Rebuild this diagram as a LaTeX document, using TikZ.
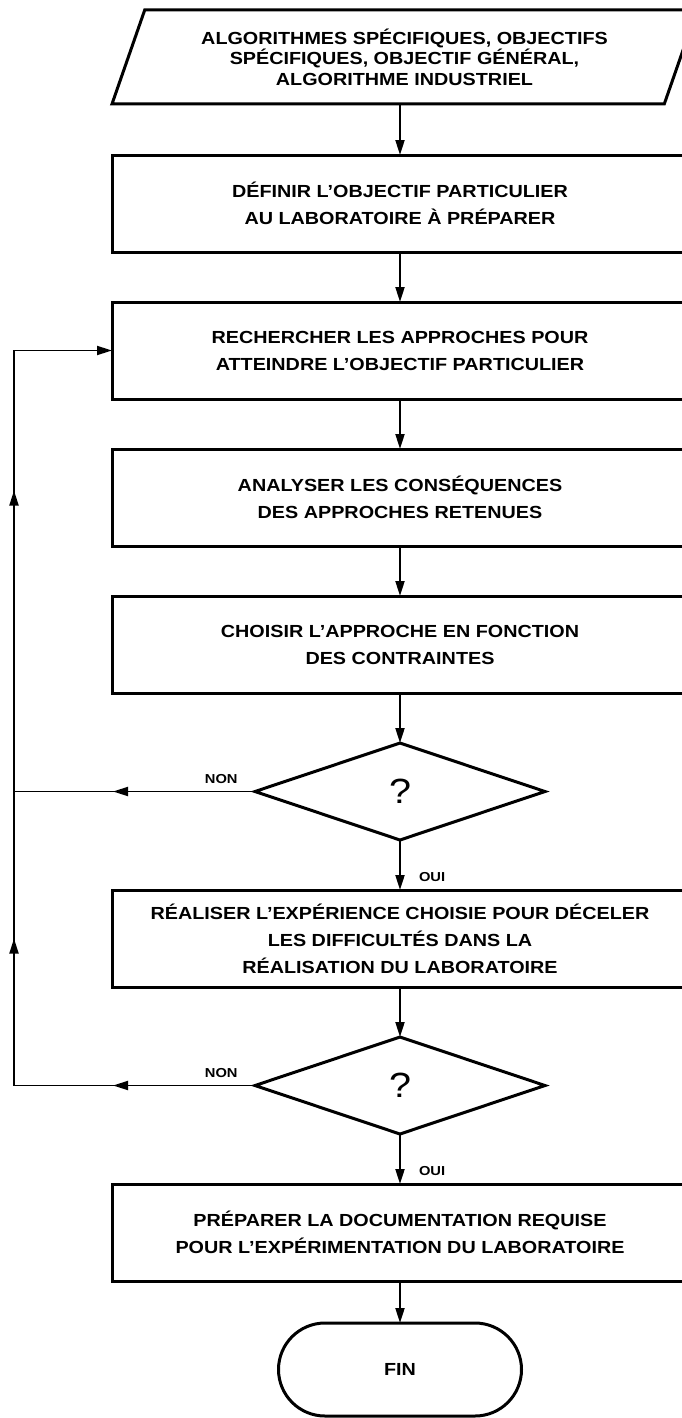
\documentclass[tikz,border=0pt]{standalone}
\usepackage{fontspec}
\setmainfont{Liberation Sans}[FakeStretch=1.13]
\usepackage{tikz}
\usetikzlibrary{
  shapes.geometric, shapes.misc, arrows.meta, positioning, calc,
  decorations.markings
}
\newcommand{\blkfont}{\fontsize{17.5}{27}\selectfont\bfseries}
\tikzset{every node/.append style={align=center}}
\tikzset{
  io/.style={trapezium, trapezium left angle=60, trapezium right angle=120,
    trapezium stretches body=true, draw, line width=3pt, outer sep=0pt,
    minimum width=585pt, minimum height=94pt, inner sep=0pt,
    font=\fontsize{17.5}{20.5}\selectfont\bfseries},
  proc/.style={rectangle, draw, line width=3pt, outer sep=0pt,
    minimum width=576pt, minimum height=97pt, inner sep=0pt, font=\blkfont},
  test/.style={diamond, draw, line width=3pt, outer sep=0pt,
    minimum width=290pt, minimum height=97pt, inner sep=0pt,
    font=\fontsize{35}{35}\selectfont},
  term/.style={rounded rectangle, draw, line width=3pt, outer sep=0pt,
    minimum width=243pt, minimum height=93pt, inner sep=0pt, font=\blkfont},
  arrow/.style={-{Triangle[length=15pt,width=9pt]}, line width=2pt},
  back/.style={line width=1.8pt},
  flowmark/.style={postaction={decorate, decoration={markings,
    mark=at position #1 with {\arrow{Triangle[length=15pt,width=9pt]}}}}},
  yn/.style={font=\fontsize{13}{13}\selectfont\bfseries, inner sep=2pt}
}

\begin{document}
\begin{tikzpicture}[x=1pt, y=-1pt, node distance=50pt]
  \useasboundingbox (0,0) rectangle (682,1418);
  \clip (0,0) rectangle (682,1418);
  \node[io] (src) at (404.5,57) {ALGORITHMES SPÉCIFIQUES, OBJECTIFS\\SPÉCIFIQUES, OBJECTIF GÉNÉRAL,\\ALGORITHME INDUSTRIEL};
  \node[proc, anchor=north] (dfn) at (400,155) {DÉFINIR L'OBJECTIF PARTICULIER\\AU LABORATOIRE À PRÉPARER};
  \node[proc, below=of dfn] (rch) {RECHERCHER LES APPROCHES POUR\\ATTEINDRE L'OBJECTIF PARTICULIER};
  \node[proc, below=of rch] (ana) {ANALYSER LES CONSÉQUENCES\\DES APPROCHES RETENUES};
  \node[proc, below=of ana] (cho) {CHOISIR L'APPROCHE EN FONCTION\\DES CONTRAINTES};
  \node[test, below=of cho] (q1) {?};
  \node[proc, below=of q1] (rea) {RÉALISER L'EXPÉRIENCE CHOISIE POUR DÉCELER\\LES DIFFICULTÉS DANS LA\\RÉALISATION DU LABORATOIRE};
  \node[test, below=of rea] (q2) {?};
  \node[proc, below=of q2] (doc) {PRÉPARER LA DOCUMENTATION REQUISE\\POUR L'EXPÉRIMENTATION DU LABORATOIRE};
  \node[term, below=42pt of doc] (fin) {FIN};
  \coordinate (fbx) at (14,0);
  % main line
  \draw[arrow] (src.south -| dfn.north) -- (dfn.north);
  \draw[arrow] (dfn) -- (rch);
  \draw[arrow] (rch) -- (ana);
  \draw[arrow] (ana) -- (cho);
  \draw[arrow] (cho) -- (q1);
  \draw[arrow] (q1) -- node[yn, pos=0.75, anchor=west, xshift=16pt] {OUI} (rea);
  \draw[arrow] (rea) -- (q2);
  \draw[arrow] (q2) -- node[yn, pos=0.75, anchor=west, xshift=16pt] {OUI} (doc);
  \draw[arrow] (doc) -- (fin);
  % loops back
  \draw[back, flowmark=142pt] (q1.west) -- node[yn, pos=0.14, above=5pt] {NON} (q1.west -| fbx);
  \draw[back, flowmark=142pt, flowmark=388pt, flowmark=836pt, -{Triangle[length=15pt,width=9pt]}]
    (q2.west) -- node[yn, pos=0.14, above=5pt] {NON} (q2.west -| fbx) -- (rch.west -| fbx) -- (rch.west);
\end{tikzpicture}
\end{document}
